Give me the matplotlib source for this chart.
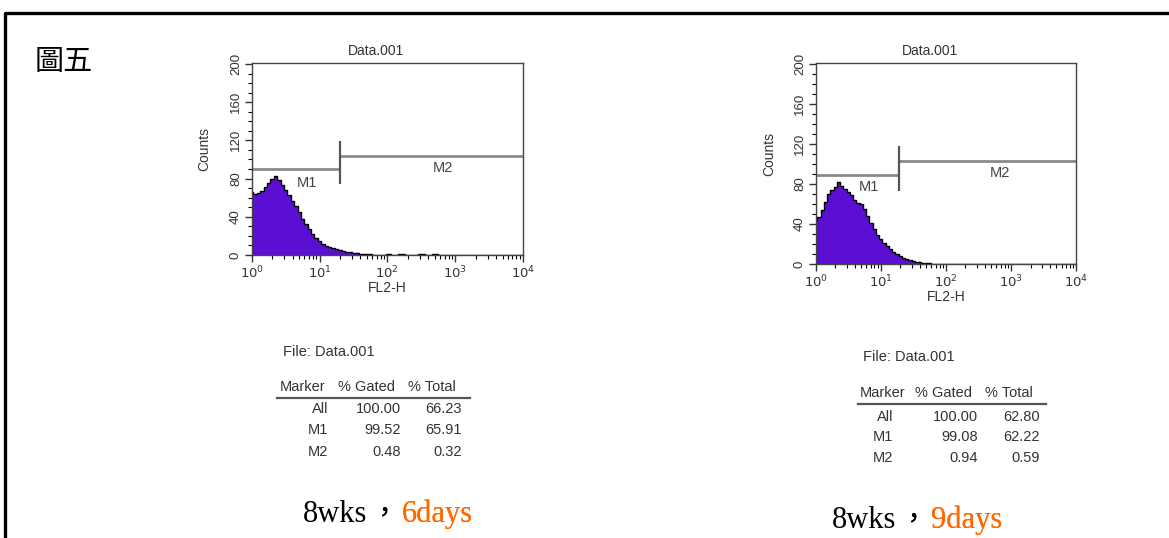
import numpy as np
import matplotlib
matplotlib.use('Agg')
import matplotlib.pyplot as plt
from matplotlib.lines import Line2D
from matplotlib.ticker import MultipleLocator, LogLocator

# histogram channels, log10(FL2-H)
log_x = [0.00, 0.05, 0.10, 0.15, 0.20, 0.25, 0.30, 0.35, 0.40, 0.45,
         0.50, 0.55, 0.60, 0.65, 0.70, 0.75, 0.80, 0.85, 0.90, 0.95,
         1.00, 1.05, 1.10, 1.15, 1.20, 1.25, 1.30, 1.35, 1.40, 1.45,
         1.50, 1.55, 1.60, 1.65, 1.70, 1.75, 1.80, 1.85, 1.90, 1.95,
         2.00, 2.10, 2.20, 2.30, 2.40, 2.50, 2.60, 2.70, 2.80, 2.90,
         3.00, 3.50, 4.00]

counts_6d = [66, 64, 65, 67, 71, 75, 80, 83, 78, 73,
             68, 63, 57, 51, 45, 38, 32, 27, 22, 18,
             15, 12, 9, 8, 7, 6, 5, 4, 3.5, 3,
             2.5, 2, 1.5, 1.5, 1, 1, 0.5, 0.5, 0.5, 0.5,
             1, 0.5, 1, 0.5, 0.5, 1, 0.5, 1, 0.5, 0.5,
             0, 0, 0]
counts_9d = [44, 47, 54, 62, 70, 74, 77, 82, 78, 75,
             72, 69, 64, 61, 60, 55, 48, 41, 35, 29,
             25, 21, 18, 15, 12, 10, 8, 6.5, 5, 4,
             3, 2.5, 2, 1.5, 1, 1, 0.5, 0.5, 0.5, 0.5,
             0.5, 0.5, 0.5, 0, 0, 0, 0, 0, 0, 0,
             0, 0, 0]
first_channel_6d = 131
first_channel_9d = 120

# markers: (start, end, level)
m1_6d = (1, 20, 90)
m2_6d = (20, 10000, 104)
m1_9d = (1, 19, 89)
m2_9d = (19, 10000, 103)

# statistics tables
table_markers = ['All', 'M1', 'M2']
gated_6d = ['100.00', '99.52', '0.48']
total_6d = ['66.23', '65.91', '0.32']
gated_9d = ['100.00', '99.08', '0.94']
total_9d = ['62.80', '62.22', '0.59']

W, H = 1169, 538
PURPLE = '#5a0fd2'
GREY = '#8a8a8a'
SANS = 'Liberation Sans'

def fx(px):
    return px / W

def fy(py):
    return 1 - py / H

fig = plt.figure(figsize=(W / 100, H / 100), dpi=100)
fig.patch.set_facecolor('white')

# outer frame
fig.add_artist(Line2D([fx(5), fx(5), 1.0], [0.0, fy(13), fy(13)],
                      transform=fig.transFigure, color='black', lw=2.4))

fig.text(fx(35), fy(62), '圖五', fontsize=21, family=['Noto Sans CJK TC'],
         ha='left', va='center')


def histo_panel(rect, counts, first_channel, m1, m2, m1_lbl, m2_lbl, title_x):
    ax = fig.add_axes(rect)
    x = 10 ** np.array(log_x)
    c = np.array(counts)
    ax.fill_between(x, c, step='mid', color=PURPLE, lw=0)
    ax.step(x, c, where='mid', color='black', lw=1.0)
    ax.vlines(1, 0, first_channel, color='black', lw=1.5)

    # marker bars
    ax.hlines(m1[2], m1[0], m1[1], color=GREY, lw=2)
    ax.hlines(m2[2], m2[0], m2[1], color=GREY, lw=2)
    ax.vlines(m1[1], m1[2] - 16, m2[2] + 15, color='#555555', lw=1.6)
    ax.text(m1_lbl[0], m1_lbl[1], 'M1', fontsize=10.5, color='#444444',
            ha='center', va='center', family=SANS)
    ax.text(m2_lbl[0], m2_lbl[1], 'M2', fontsize=10.5, color='#444444',
            ha='center', va='center', family=SANS)

    ax.set_xscale('log')
    ax.set_xlim(1, 10000)
    ax.set_ylim(0, 201)
    ax.yaxis.set_major_locator(MultipleLocator(40))
    ax.yaxis.set_minor_locator(MultipleLocator(10))
    ax.xaxis.set_major_locator(LogLocator(base=10))
    ax.xaxis.set_minor_locator(LogLocator(base=10, subs=np.arange(2, 10)))
    ax.tick_params(axis='both', which='major', direction='out', length=5,
                   width=1, labelsize=9.5, colors='#333333', pad=2)
    ax.tick_params(axis='both', which='minor', direction='out', length=3, width=0.8)
    for lab in ax.get_yticklabels():
        lab.set_rotation(90)
        lab.set_va('center')
        lab.set_family(SANS)
    ax.set_xlabel('FL2-H', fontsize=10, labelpad=0, color='#333333', family=SANS)
    ax.set_ylabel('Counts', fontsize=10, labelpad=1, color='#333333', family=SANS)
    ax.yaxis.set_label_coords(-0.15, 0.55)
    for sp in ax.spines.values():
        sp.set_color('#444444')
        sp.set_linewidth(1.0)
    ax.text(title_x, 1.025, 'Data.001', transform=ax.transAxes, fontsize=10,
            ha='center', va='bottom', color='#333333', family=SANS)
    return ax


histo_panel([fx(251.7), fy(255), fx(523) - fx(251.7), fy(63) - fy(255)],
            counts_6d, first_channel_6d, m1_6d, m2_6d,
            (6.5, 75), (660, 91), 0.46)
histo_panel([fx(815.7), fy(264), fx(1076) - fx(815.7), fy(63.3) - fy(264)],
            counts_9d, first_channel_9d, m1_9d, m2_9d,
            (6.5, 77), (680, 91), 0.44)


def stats_table(file_xy, head_y, line_x, line_y, head_x, col_r, row_y, gated, total):
    tk = dict(fontsize=10.5, color='#333333', family=SANS)
    fig.text(fx(file_xy[0]), fy(file_xy[1]), 'File: Data.001', ha='left', va='center', **tk)
    for hx, name in zip(head_x, ['Marker', '% Gated', '% Total']):
        fig.text(fx(hx), fy(head_y), name, ha='left', va='center', **tk)
    fig.add_artist(Line2D([fx(line_x[0]), fx(line_x[1])], [fy(line_y), fy(line_y)],
                          transform=fig.transFigure, color='#555555', lw=1.6))
    for i in range(len(table_markers)):
        fig.text(fx(col_r[0]), fy(row_y[i]), table_markers[i], ha='right', va='center', **tk)
        fig.text(fx(col_r[1]), fy(row_y[i]), gated[i], ha='right', va='center', **tk)
        fig.text(fx(col_r[2]), fy(row_y[i]), total[i], ha='right', va='center', **tk)


stats_table((283, 352), 386.7, (277, 470), 397.5, (280, 338, 408),
            (328, 401, 462), (409, 430, 452), gated_6d, total_6d)
stats_table((863, 357), 393, (858, 1046), 404, (860, 915, 985),
            (893, 978, 1040), (417, 437, 458), gated_9d, total_9d)


def caption(x, y, days):
    # "8wks" black, fullwidth comma, then the day count in orange
    serif = ['Liberation Serif', 'Noto Sans CJK TC']
    t1 = fig.text(fx(x), fy(y), '8wks', fontsize=22, family=serif,
                  ha='left', va='baseline', color='black')
    a2 = plt.annotate('，', xy=(1, 0), xycoords=t1, xytext=(2, 0),
                      textcoords='offset points', fontsize=20,
                      family=['Noto Sans CJK TC'], ha='left', va='bottom',
                      color='black', annotation_clip=False)
    fig.add_artist(a2)
    a3 = plt.annotate(days, xy=(1, 0), xycoords=a2, xytext=(3, 0),
                      textcoords='offset points', fontsize=22,
                      family=serif, ha='left', va='bottom', color='#ff6a00',
                      annotation_clip=False)
    fig.add_artist(a3)


caption(303, 522, '6days')
caption(832, 528, '9days')

fig.savefig('out.png', dpi=100)
